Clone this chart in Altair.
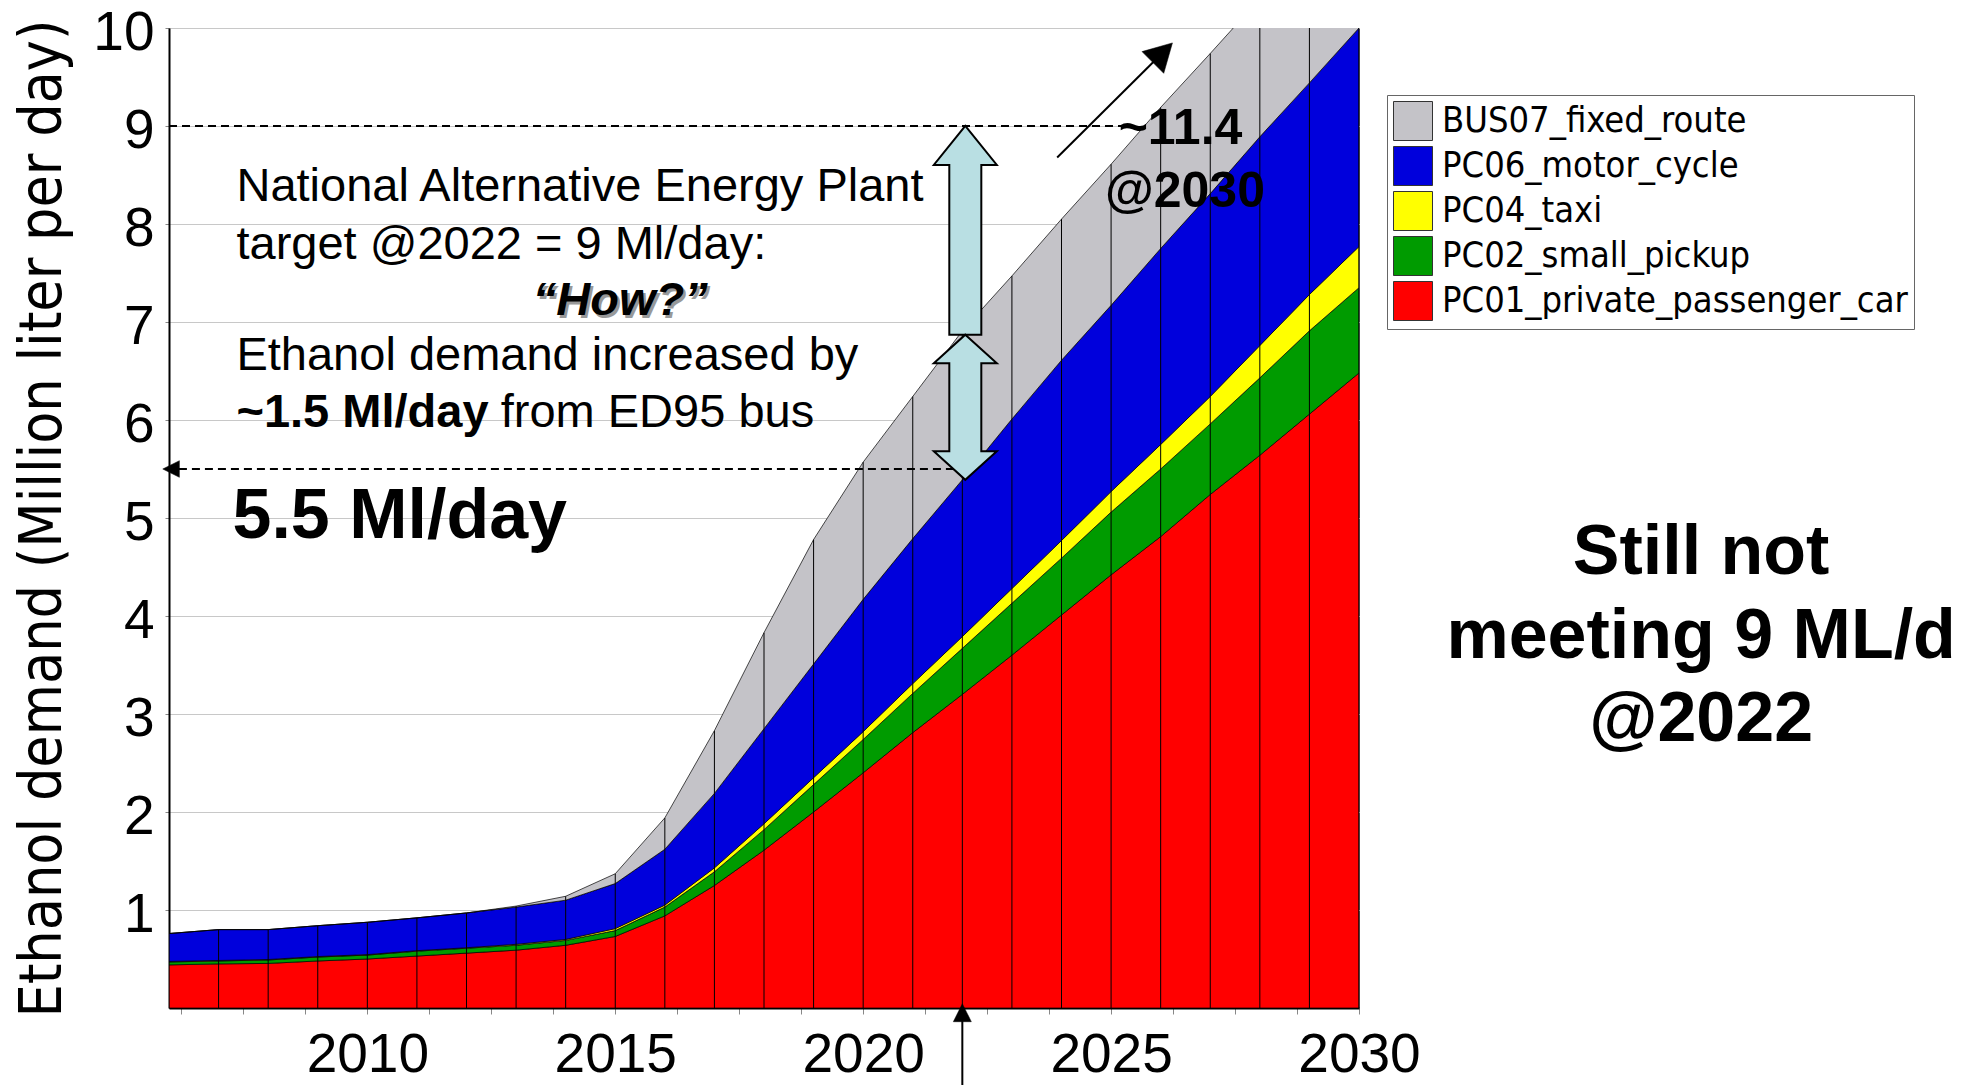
import altair as alt
import pandas as pd

# ---------------- data ----------------
years = list(range(2006, 2031))
series = ["BUS07_fixed_route", "PC06_motor_cycle", "PC04_taxi",
          "PC02_small_pickup", "PC01_private_passenger_car"]
colors = ["#C4C3C8", "#0000DC", "#FFFF00", "#009B00", "#FF0000"]

pc01 = [0.44, 0.45, 0.455, 0.48, 0.50, 0.53, 0.56, 0.59, 0.64, 0.73, 0.94, 1.25,
        1.61, 2.00, 2.40, 2.81, 3.20, 3.60, 4.01, 4.42, 4.81, 5.24, 5.64, 6.06, 6.48]
pc02 = [0.03, 0.03, 0.035, 0.04, 0.04, 0.05, 0.05, 0.05, 0.05, 0.06, 0.09, 0.14,
        0.21, 0.28, 0.34, 0.40, 0.47, 0.53, 0.58, 0.64, 0.69, 0.72, 0.79, 0.85, 0.87]
pc04 = [0.005, 0.005, 0.005, 0.005, 0.005, 0.005, 0.005, 0.01, 0.01, 0.02, 0.02, 0.04,
        0.06, 0.07, 0.08, 0.10, 0.12, 0.15, 0.18, 0.21, 0.25, 0.28, 0.33, 0.37, 0.42]
pc06 = [0.285, 0.315, 0.305, 0.315, 0.33, 0.335, 0.355, 0.38, 0.40, 0.46, 0.57, 0.76,
        0.97, 1.16, 1.35, 1.48, 1.60, 1.73, 1.84, 1.90, 2.00, 2.07, 2.13, 2.16, 2.23]
bus07 = [0, 0, 0, 0, 0, 0, 0, 0.01, 0.04, 0.10, 0.32, 0.64,
         0.98, 1.27, 1.40, 1.45, 1.52, 1.46, 1.44, 1.44, 1.44, 1.43, 1.41, 1.41, 1.40]

x_tick_values = [2006.25, 2007.5, 2008.75, 2010, 2011.25, 2012.5, 2013.75, 2015,
                 2016.25, 2017.5, 2018.75, 2020, 2021.25, 2022.5, 2023.75, 2025,
                 2026.25, 2027.5, 2028.75, 2030]
y_tick_values = [1, 2, 3, 4, 5, 6, 7, 8, 9, 10]

values_by_series = {
    "PC01_private_passenger_car": pc01,
    "PC02_small_pickup": pc02,
    "PC04_taxi": pc04,
    "PC06_motor_cycle": pc06,
    "BUS07_fixed_route": bus07,
}
stack_rank = {"PC01_private_passenger_car": 1, "PC02_small_pickup": 2,
              "PC04_taxi": 3, "PC06_motor_cycle": 4, "BUS07_fixed_route": 5}

rows = []
for name, vals in values_by_series.items():
    for yr, v in zip(years, vals):
        rows.append({"year": yr, "value": v, "series": name, "rank": stack_rank[name]})
df = pd.DataFrame(rows)

totals = [a + b + c + d + e for a, b, c, d, e in zip(pc01, pc02, pc04, pc06, bus07)]
df_tot = pd.DataFrame({"year": years, "lo": [0] * len(years), "value": totals})

# annotation data
target_level = [9.0]
current_level = [5.5]
year_target = 2022

# ---------------- scales / axes ----------------
W, H = 1190, 980
xs = alt.Scale(domain=[2006, 2030], nice=False, zero=False)
ys = alt.Scale(domain=[0, 10], nice=False, zero=True)

xaxis = alt.Axis(values=x_tick_values, labelExpr="datum.value % 5 === 0 ? datum.value : ''",
                 title=None, grid=False, labelFont="Liberation Sans", labelFontSize=55,
                 labelColor="black", labelBaseline="alphabetic", labelPadding=57, tickSize=6,
                 tickColor="#888", domainColor="black", domainWidth=2, labelOverlap=False,
                 labelFlush=False)
yaxis = alt.Axis(values=y_tick_values, format="d", title="Ethanol demand (Million liter per day)",
                 titleFont="DejaVu Sans Condensed", titleFontSize=58.5, titleFontWeight="normal",
                 titleColor="black", titleAngle=270, titleX=-109, titleY=H / 2,
                 titleAlign="center", titleBaseline="alphabetic",
                 labelFont="Liberation Sans", labelFontSize=55, labelColor="black",
                 labelPadding=11, labelOffset=4, tickSize=4, tickColor="#888", grid=True,
                 gridColor="#C8C8C8", gridWidth=1, domainColor="black", domainWidth=2,
                 labelOverlap=False, labelFlush=False)

X = lambda f: alt.X(f, scale=xs, axis=xaxis)
Y = lambda f: alt.Y(f, scale=ys, axis=yaxis)

areas = alt.Chart(df).mark_area(stroke="black", strokeWidth=0.7, clip=True, opacity=1).encode(
    x=X("year:Q"),
    y=alt.Y("value:Q", stack="zero", scale=ys, axis=yaxis),
    color=alt.Color("series:N", scale=alt.Scale(domain=series, range=colors),
                    legend=alt.Legend(title=None, orient="none", legendX=1218, legendY=67,
                                      direction="vertical", fillColor="white",
                                      strokeColor="#666", padding=6, symbolType="square",
                                      symbolSize=1521, symbolStrokeColor="#333",
                                      symbolStrokeWidth=1, symbolOpacity=1,
                                      labelFont="DejaVu Sans Condensed", labelFontSize=36,
                                      labelColor="black", labelLimit=800, rowPadding=1,
                                      labelOffset=9)),
    order=alt.Order("rank:Q", sort="ascending"),
)

year_rules = alt.Chart(df_tot).mark_rule(color="black", strokeWidth=1, clip=True).encode(
    x=X("year:Q"), y=Y("lo:Q"), y2="value:Q")

# dashed lines
dash_df = pd.DataFrame({"x": [2006.0, 2006.2], "x2": [2025.2, year_target + 0.07],
                        "y": target_level + current_level})
dashes = alt.Chart(dash_df).mark_rule(color="black", strokeWidth=1.8, strokeDash=[8, 5]).encode(
    x=X("x:Q"), x2="x2:Q", y=Y("y:Q"))

# light blue block arrows (custom symbol outlines, centred on their data span)
up_arrow_path = ("M0,-1L0.3016,-0.6266L0.1532,-0.6266L0.1532,1L-0.1532,1"
                 "L-0.1532,-0.6266L-0.3016,-0.6266Z")
dbl_arrow_path = ("M0,-1L0.434,-0.607L0.2205,-0.607L0.2205,0.607L0.434,0.607L0,1"
                  "L-0.434,0.607L-0.2205,0.607L-0.2205,-0.607L-0.434,-0.607Z")
arrow_up = alt.Chart(pd.DataFrame({"x": [year_target + 0.06], "y": [7.935]})).mark_point(
    shape=up_arrow_path, size=43639, filled=True, fill="#B9DFE3", stroke="black",
    strokeWidth=2, opacity=1).encode(x=X("x:Q"), y=Y("y:Q"))
arrow_dbl = alt.Chart(pd.DataFrame({"x": [year_target + 0.06], "y": [6.13]})).mark_point(
    shape=dbl_arrow_path, size=21054, filled=True, fill="#B9DFE3", stroke="black",
    strokeWidth=2, opacity=1).encode(x=X("x:Q"), y=Y("y:Q"))

# left arrowhead on 5.5 line
lefthead = alt.Chart(pd.DataFrame({"x": [2006.042], "y": current_level})).mark_point(
    shape="M-1,0L1,-1L1,1Z", size=276, filled=True, fill="black", stroke="black",
    strokeWidth=0.5, opacity=1).encode(x=X("x:Q"), y=Y("y:Q"))

# vertical arrow at 2022 below axis
vline = alt.Chart(pd.DataFrame({"x": [year_target], "y": [-0.12], "y2": [-0.8]})).mark_rule(
    color="black", strokeWidth=2).encode(x=X("x:Q"), y=Y("y:Q"), y2="y2:Q")
vhead = alt.Chart(pd.DataFrame({"x": [year_target], "y": [-0.048]})).mark_point(
    shape="M0,-1L-1,1L1,1Z", size=324, filled=True, fill="black", stroke="black",
    strokeWidth=0.5, opacity=1).encode(x=X("x:Q"), y=Y("y:Q"))

# diagonal arrow
dline = alt.Chart(pd.DataFrame({"x": [2023.913], "y": [8.678], "x2": [2026.04], "y2": [9.748]})).mark_rule(
    color="black", strokeWidth=2).encode(x=X("x:Q"), y=Y("y:Q"), x2="x2:Q", y2="y2:Q")
dhead = alt.Chart(pd.DataFrame({"x": [2026.04], "y": [9.748]})).mark_point(
    shape="M0,-0.9L-1,0.9L1,0.9Z", size=942, angle=45, filled=True, fill="black",
    stroke="black", strokeWidth=0.5, opacity=1).encode(x=X("x:Q"), y=Y("y:Q"))

# texts
def txt(df_, **kw):
    base = dict(align="left", baseline="alphabetic", font="Liberation Sans", fontSize=47,
                color="black")
    base.update(kw)
    return alt.Chart(df_).mark_text(**base).encode(x=X("x:Q"), y=Y("y:Q"), text="t:N")

t_plain = txt(pd.DataFrame({
    "x": [2007.36, 2007.36, 2007.36, 2012.69],
    "y": [8.233, 7.64, 6.51, 5.93],
    "t": ["National Alternative Energy Plant", "target @2022 = 9 Ml/day:",
          "Ethanol demand increased by", "from ED95 bus"]}))
t_bold = txt(pd.DataFrame({"x": [2007.36], "y": [5.93], "t": ["~1.5 Ml/day"]}),
             fontWeight="bold")
t_how_shadow = txt(pd.DataFrame({"x": [2015.1 + 0.05], "y": [7.07 - 0.025], "t": ["\u201cHow?\u201d"]}),
                   align="center", fontWeight="bold", fontStyle="italic", color="#999999")
t_how = txt(pd.DataFrame({"x": [2015.1], "y": [7.07], "t": ["\u201cHow?\u201d"]}),
            align="center", fontWeight="bold", fontStyle="italic")
t_55 = txt(pd.DataFrame({"x": [2007.28], "y": [4.80], "t": ["5.5 Ml/day"]}),
           fontWeight="bold", fontSize=70)
t_114 = txt(pd.DataFrame({"x": [2026.4, 2026.49], "y": [8.82, 8.17], "t": ["~11.4", "@2030"]}),
            align="center", fontWeight="bold", fontSize=50)
t_still = txt(pd.DataFrame({"x": [2036.9, 2036.9, 2036.9], "y": [4.43, 3.57, 2.72],
                            "t": ["Still not", "meeting 9 ML/d", "@2022"]}),
              align="center", fontWeight="bold", fontSize=70)

chart = alt.layer(
    areas, year_rules, dashes, arrow_up, arrow_dbl, lefthead, vline, vhead, dline, dhead,
    t_plain, t_bold, t_how_shadow, t_how, t_55, t_114, t_still
).properties(
    width=W, height=H,
    autosize=alt.AutoSizeParams(type="none"),
    padding={"left": 169, "top": 28, "right": 611, "bottom": 77},
    background="white",
).configure_view(stroke="#444", strokeWidth=1)

chart.save("out.html", embed_options={"renderer": "svg", "actions": False})
